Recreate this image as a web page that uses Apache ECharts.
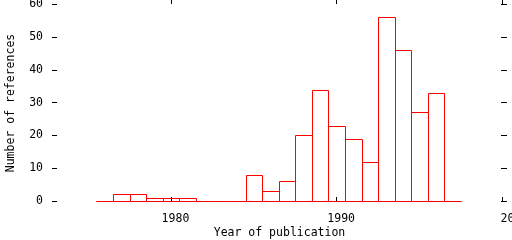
<!DOCTYPE html>
<html><head><meta charset="utf-8">
<script src="https://cdn.jsdelivr.net/npm/echarts@6/dist/echarts.min.js"></script>
<style>html,body{margin:0;padding:0;background:#fff}#c{width:512px;height:240px}</style>
</head><body><div id="c"></div>
<script>
const years  = [1976,1977,1978,1979,1980,1981,1982,1983,1984,1985,1986,1987,1988,1989,1990,1991,1992,1993,1994,1995,1996,1997];
const counts = [0,2,2,1,1,1,0,0,0,8,3,6,20,34,23,19,12,56,46,27,33,0];
const xTicks = [1980,1990,2000];
const yTicks = [0,10,20,30,40,50,60];

const FONT = 'DejaVu Sans Mono';
const FS = 11.5;
const chart = echarts.init(document.getElementById('c'), null, {renderer:'canvas'});
const tickStyle = {color:'#000', width:1};
const xMin = 1972.82, xMax = 2000.28, yMin = -1.525, yMax = 61.31;

chart.setOption({
  animation:false,
  backgroundColor:'#fff',
  grid:{left:52, right:5, top:0, bottom:34, containLabel:false, outerBoundsMode:'none'},
  xAxis:[{
    type:'value', position:'bottom', min:xMin, max:xMax,
    axisLine:{show:false}, splitLine:{show:false},
    axisTick:{show:true, inside:true, length:4, lineStyle:tickStyle, customValues:xTicks},
    axisLabel:{show:true, color:'#000', fontFamily:FONT, fontSize:FS, margin:7, customValues:xTicks,
      formatter:v => (v===2000 ? '{e|' : '{n|') + v + '}',
      rich:{n:{padding:[0,0,0,9], fontFamily:FONT, fontSize:FS, color:'#000'},
            e:{padding:[0,0,0,24], fontFamily:FONT, fontSize:FS, color:'#000'}}},
    name:'Year of publication', nameLocation:'middle', nameGap:21, nameMoveOverlap:false,
    nameTextStyle:{color:'#000', fontFamily:FONT, fontSize:FS}
  },{
    type:'value', position:'top', min:xMin, max:xMax,
    axisLine:{show:false, onZero:false}, splitLine:{show:false},
    axisTick:{show:true, inside:true, length:4, lineStyle:tickStyle, customValues:xTicks},
    axisLabel:{show:false, customValues:xTicks}
  }],
  yAxis:[{
    type:'value', position:'left', min:yMin, max:yMax,
    axisLine:{show:false}, splitLine:{show:false},
    axisTick:{show:true, inside:true, length:5, lineStyle:tickStyle, customValues:yTicks},
    axisLabel:{show:true, color:'#000', fontFamily:FONT, fontSize:FS, margin:9, customValues:yTicks},
    name:'Number of references', nameLocation:'middle', nameGap:35, nameMoveOverlap:false,
    nameTextStyle:{color:'#000', fontFamily:FONT, fontSize:FS}
  },{
    type:'value', position:'right', min:yMin, max:yMax,
    axisLine:{show:false, onZero:false}, splitLine:{show:false},
    axisTick:{show:true, inside:true, length:6, lineStyle:tickStyle, customValues:yTicks},
    axisLabel:{show:false, customValues:yTicks}
  }],
  series:[{
    type:'custom',
    data: years.map((y,i)=>[y, counts[i]]),
    renderItem:(params, api)=>{
      const p0 = api.coord([api.value(0)-0.5, 0]);
      const p1 = api.coord([api.value(0)+0.5, api.value(1)]);
      const l = Math.round(p0[0])+0.5, r = Math.round(p1[0])+0.5;
      const b = Math.round(p0[1])+0.5, t = Math.round(p1[1])+0.5;
      return {type:'rect', shape:{x:l, y:t, width:r-l, height:b-t},
              style:{fill:'none', stroke:'#ff0000', lineWidth:1}};
    }
  }]
});
</script></body></html>
